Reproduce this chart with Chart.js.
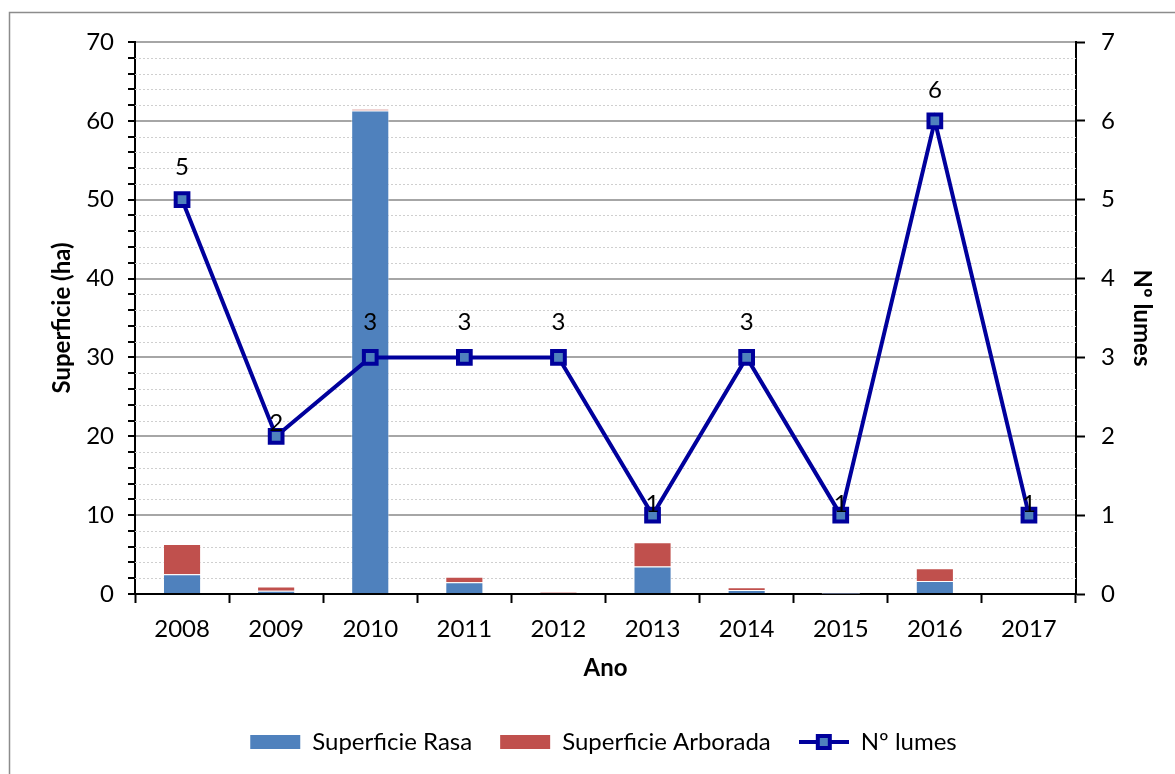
<!DOCTYPE html>
<html>
<head>
<meta charset="utf-8">
<script src="https://cdn.jsdelivr.net/npm/chart.js@4/dist/chart.umd.min.js"></script>
<style>
  html, body { margin: 0; padding: 0; background: #fff; }
  #wrap { position: relative; width: 1175px; height: 774px; }
</style>
</head>
<body>
<div id="wrap"><canvas id="c" width="1175" height="774"></canvas></div>
<script>
const years = ['2008','2009','2010','2011','2012','2013','2014','2015','2016','2017'];
const superficieRasa = [2.5, 0.4, 61.3, 1.5, 0.15, 3.5, 0.5, 0.02, 1.65, 0];
const superficieArborada = [3.85, 0.55, 0.2, 0.7, 0.15, 3.05, 0.35, 0.1, 1.6, 0];
const numLumes = [5, 2, 3, 3, 3, 1, 3, 1, 6, 1];
const leftTicks = [0, 10, 20, 30, 40, 50, 60, 70];
const rightTicks = [0, 1, 2, 3, 4, 5, 6, 7];

const FONT = 'Lato, "Open Sans", sans-serif';
const BLUE = '#4F81BD';
const RED = '#C0504D';
const NAVY = '#00009c';

const lineImg = document.createElement('canvas');
lineImg.width = 50; lineImg.height = 20;
(function(){
  const g = lineImg.getContext('2d');
  g.strokeStyle = NAVY; g.lineWidth = 4;
  g.beginPath(); g.moveTo(0, 10); g.lineTo(50, 10); g.stroke();
  g.fillStyle = BLUE; g.lineWidth = 4;
  g.fillRect(19, 4, 12, 12);
  g.strokeRect(19, 4, 12, 12);
})();

const frame = {
  id: 'frame',
  beforeDraw(chart) {
    const ctx = chart.ctx;
    ctx.save();
    ctx.fillStyle = '#fff';
    ctx.fillRect(0, 0, chart.width, chart.height);
    ctx.strokeStyle = '#8c8c8c';
    ctx.lineWidth = 1.5;
    ctx.strokeRect(9.5, 12.5, 1400, 900);
    ctx.restore();
  }
};

const minorGrid = {
  id: 'minorGrid',
  beforeDatasetsDraw(chart) {
    const y = chart.scales.y, a = chart.chartArea, ctx = chart.ctx;
    ctx.save();
    ctx.strokeStyle = '#cfcfcf';
    ctx.lineWidth = 1;
    ctx.setLineDash([2, 2]);
    y.ticks.forEach(t => {
      if (t.value % 10 !== 0) {
        const py = Math.round(y.getPixelForValue(t.value)) + 0.5;
        ctx.beginPath(); ctx.moveTo(a.left, py); ctx.lineTo(a.right, py); ctx.stroke();
      }
    });
    ctx.restore();
  }
};

const labelOffsets = [32, 13, 35, 35, 35, 11, 35, 11, 31, 11];
const pointLabels = {
  id: 'pointLabels',
  afterDatasetsDraw(chart) {
    const ctx = chart.ctx;
    const meta = chart.getDatasetMeta(2);
    ctx.save();
    ctx.font = '24px ' + FONT;
    ctx.fillStyle = '#000';
    ctx.textAlign = 'center';
    ctx.textBaseline = 'middle';
    meta.data.forEach((el, i) => {
      ctx.fillText(String(numLumes[i]), el.x, el.y - labelOffsets[i]);
    });
    ctx.restore();
  }
};

new Chart(document.getElementById('c'), {
  type: 'bar',
  data: {
    labels: years,
    datasets: [
      { label: 'Superficie Rasa', data: superficieRasa, backgroundColor: BLUE,
        borderColor: 'rgba(255,255,255,0.5)', borderWidth: 1, yAxisID: 'y', order: 2,
        categoryPercentage: 1, barPercentage: 0.405 },
      { label: 'Superficie Arborada', data: superficieArborada, backgroundColor: RED,
        borderColor: 'rgba(255,255,255,0.5)', borderWidth: 1, yAxisID: 'y', order: 2,
        categoryPercentage: 1, barPercentage: 0.405 },
      { type: 'line', label: 'Nº lumes', data: numLumes, yAxisID: 'y1', order: 0,
        borderColor: NAVY, borderWidth: 4, backgroundColor: BLUE,
        pointStyle: 'rect', pointRadius: 9, pointHoverRadius: 9,
        pointBorderColor: NAVY, pointBackgroundColor: BLUE, pointBorderWidth: 4,
        tension: 0 }
    ]
  },
  options: {
    responsive: false,
    animation: false,
    devicePixelRatio: 1,
    layout: { padding: { top: 42, left: 32, right: 0, bottom: 10 } },
    plugins: {
      tooltip: { enabled: false },
      legend: {
        position: 'bottom',
        labels: {
          font: { family: FONT, size: 24 },
          color: '#000',
          usePointStyle: true,
          pointStyleWidth: 50,
          boxHeight: 14,
          padding: 28,
          generateLabels(chart) {
            return chart.data.datasets.map((ds, i) => ({
              text: ds.label,
              fillStyle: ds.type === 'line' ? NAVY : ds.backgroundColor,
              strokeStyle: 'rgba(0,0,0,0)',
              lineWidth: 0,
              pointStyle: ds.type === 'line' ? lineImg : 'rect',
              datasetIndex: i,
              hidden: false
            }));
          }
        }
      }
    },
    scales: {
      x: {
        stacked: true,
        offset: true,
        grid: { offset: true, drawOnChartArea: false, tickColor: '#000', tickLength: 9, tickWidth: 2 },
        border: { color: '#000', width: 2 },
        ticks: { font: { family: FONT, size: 24 }, color: '#000', padding: 12 },
        title: { display: true, text: 'Ano', font: { family: FONT, size: 24, weight: 'bold' }, color: '#000',
                 padding: { top: 0, bottom: 19 } },
        afterFit(s) { s.height = 108; }
      },
      y: {
        stacked: true,
        position: 'left',
        min: 0, max: 70,
        afterBuildTicks(s) {
          const t = [];
          for (let v = 0; v <= 70; v += 2) t.push({ value: v });
          s.ticks = t;
        },
        ticks: {
          autoSkip: false,
          font: { family: FONT, size: 24 }, color: '#000', padding: 14,
          callback: v => leftTicks.includes(v) ? String(v) : ''
        },
        grid: {
          color: c => (c.tick && c.tick.value % 10 === 0) ? '#a6a6a6' : 'rgba(0,0,0,0)',
          lineWidth: 2,
          tickColor: '#000', tickLength: 7, tickWidth: 2
        },
        border: { color: '#000', width: 2 },
        title: { display: true, text: 'Superficie (ha)', font: { family: FONT, size: 24, weight: 'bold' }, color: '#000',
                 padding: { top: 16, bottom: 0 } },
        afterFit(s) { s.width = 103; }
      },
      y1: {
        position: 'right',
        min: 0, max: 7,
        afterBuildTicks(s) { s.ticks = rightTicks.map(v => ({ value: v })); },
        ticks: { autoSkip: false, font: { family: FONT, size: 24 }, color: '#000', padding: 16 },
        grid: { drawOnChartArea: false, tickColor: '#000', tickLength: 9, tickWidth: 2 },
        border: { color: '#000', width: 2 },
        title: { display: true, text: 'Nº lumes', font: { family: FONT, size: 24, weight: 'bold' }, color: '#000',
                 padding: { top: 19, bottom: 0 } },
        afterFit(s) { s.width = 99; }
      }
    }
  },
  plugins: [frame, minorGrid, pointLabels]
});
</script>
</body>
</html>
